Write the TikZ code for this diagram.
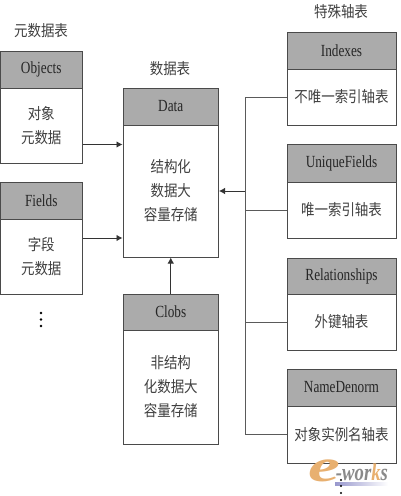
\documentclass[tikz,border=0pt]{standalone}
\usepackage{fontspec}
\setmainfont[FakeStretch=0.78]{Liberation Serif}
\newfontfamily\cjk[FakeStretch=0.87]{Noto Sans CJK SC}
\usetikzlibrary{arrows.meta}
\definecolor{hdr}{HTML}{ABABAB}
\definecolor{edge}{HTML}{4A4A4A}
\definecolor{wire}{HTML}{5A5A5A}
\definecolor{logoe}{HTML}{E8B070}
\definecolor{logow}{HTML}{8A8A8A}
\tikzset{
  x=1pt,y=-1pt,
  headbox/.style={draw=edge,line width=1pt,fill=hdr,inner sep=0pt,font=\fontsize{17}{17}\selectfont,text=black!85},
  bodybox/.style={draw=edge,line width=1pt,fill=white,inner sep=0pt,align=center,font=\cjk\fontsize{15.5}{24}\selectfont,text=black!75},
  title/.style={inner sep=0pt,font=\cjk\fontsize{15.5}{18}\selectfont,text=black!75},
  link/.style={draw=wire,line width=1pt},
  arrowlink/.style={draw=black!80,line width=0.9pt,-{Latex[length=6pt,width=6.5pt]}},
  dotmark/.style={circle,fill=black,inner sep=0pt,minimum size=2.8pt},
}
\newcommand{\tablebox}[8]{% name, left, right, top, split, bottom, head, body
  \node[headbox,minimum width=#3-#2,minimum height=#5-#4] (#1h) at ({(#2+#3)/2},{(#4+#5)/2}) {#7};
  \node[bodybox,minimum width=#3-#2,minimum height=#6-#5] (#1b) at ({(#2+#3)/2},{(#5+#6)/2}) {#8};
}
\begin{document}
\begin{tikzpicture}
\useasboundingbox (0,0) rectangle (400,496);
\fill[white] (0,0) rectangle (400,496);
\node[title] (t1) at (41,31) {元数据表};
\node[title] (t2) at (170,69) {数据表};
\node[title] (t3) at (341,12) {特殊轴表};
\tablebox{obj}{0.5}{82}{51}{88}{163}{Objects}{对象\\元数据}
\tablebox{fld}{0.5}{82}{182}{219}{294}{Fields}{字段\\元数据}
\tablebox{dat}{123}{218.5}{88}{125}{257}{Data}{结构化\\数据大\\容量存储}
\tablebox{clb}{123}{218.5}{294}{330}{444}{Clobs}{非结构\\化数据大\\容量存储}
\tablebox{idx}{287}{396}{32}{69}{125}{Indexes}{不唯一索引轴表}
\tablebox{unq}{287}{396}{144}{182}{238}{UniqueFields}{唯一索引轴表}
\tablebox{rel}{287}{396}{258}{294}{350}{Relationships}{外键轴表}
\tablebox{nam}{287}{396}{369}{406}{463}{NameDenorm}{对象实例名轴表}
\coordinate (bus) at (245.5,191);
\draw[arrowlink] ([yshift=-19pt]objb.east) -- ([yshift=-19pt]objb.east -| datb.west);
\draw[arrowlink] ([yshift=18.5pt]fldb.east) -- ([yshift=18.5pt]fldb.east -| datb.west);
\draw[arrowlink] (clbh.north) -- (datb.south);
\draw[arrowlink] (bus) -- (bus -| datb.east);
\draw[link] (idxb.west) -| (namb.west -| bus) -- (namb.west);
\draw[link] (unqb.west) -- (unqb.west -| bus);
\draw[link] (relb.west) -- (relb.west -| bus);
\node[dotmark] (d1) at (41,313) {};
\node[dotmark] (d2) at (41,319.5) {};
\node[dotmark] (d3) at (41,326) {};
\fill[left color=blue!35!gray!60,right color=white] (335,482) rectangle (388,485);
\node[inner sep=0pt,text=logoe,font=\fontsize{46}{46}\itshape\bfseries\selectfont,xscale=2,transform shape] (e) at (324,471) {e};
\node[inner sep=0pt,text=logow,font=\fontsize{24}{24}\itshape\bfseries\selectfont] (w) at (362,472) {-wor\textcolor{logoe}{k}s};
\node[dotmark,minimum size=2.4pt] (d4) at (341,480) {};
\node[dotmark,minimum size=2.4pt] (d5) at (341,486) {};
\node[dotmark,minimum size=2.4pt] (d6) at (341,493) {};
\end{tikzpicture}
\end{document}
